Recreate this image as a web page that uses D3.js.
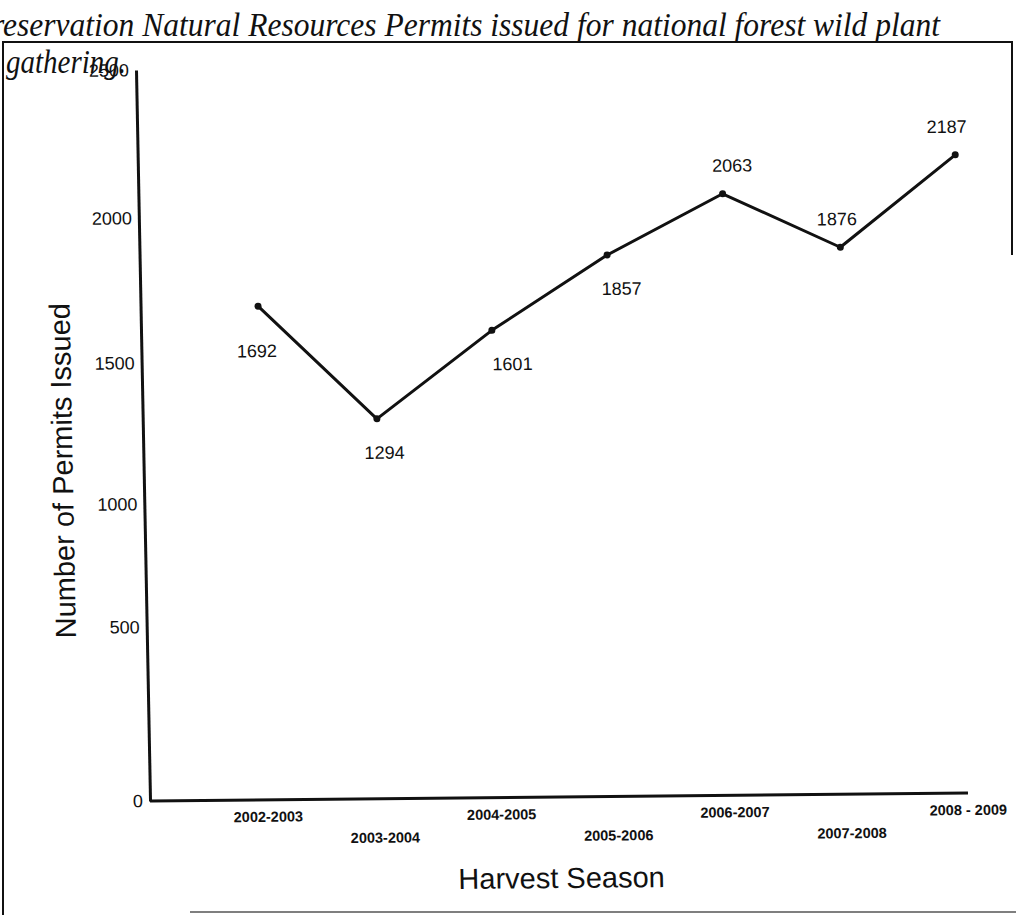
<!DOCTYPE html>
<html>
<head>
<meta charset="utf-8">
<script src="https://cdn.jsdelivr.net/npm/d3@7"></script>
<style>
  html, body { margin: 0; padding: 0; background: #fff; }
  svg { display: block; }
  .title { font-family: 'Liberation Serif', 'DejaVu Serif', serif; font-style: italic; font-size: 34px; fill: #111; }
  .tick-label { font-family: 'Liberation Sans', Arial, sans-serif; font-size: 18px; fill: #111; }
  .season-label { font-family: 'Liberation Sans', Arial, sans-serif; font-size: 14.5px; font-weight: bold; fill: #111; }
  .value-label { font-family: 'Liberation Sans', Arial, sans-serif; font-size: 18px; fill: #111; }
  .axis-title { font-family: 'Liberation Sans', Arial, sans-serif; font-size: 29px; fill: #111; }
</style>
</head>
<body>
<div id="chart"></div>
<script>
const seasons = ['2002-2003', '2003-2004', '2004-2005', '2005-2006', '2006-2007', '2007-2008', '2008 - 2009'];
const permits = [1692, 1294, 1601, 1857, 2063, 1876, 2187];
const labelSide = ['below', 'below', 'below', 'below', 'above', 'above', 'above'];
const yTicks = [0, 500, 1000, 1500, 2000, 2500];
const titleLines = ['reservation Natural Resources Permits issued for national forest wild plant', 'gathering.'];

const width = 1016, height = 915;

const svg = d3.select('#chart')
  .append('svg')
  .attr('width', width)
  .attr('height', height);

// scanned page frame
const frame = svg.append('g').attr('stroke', '#111').attr('fill', 'none');
frame.append('path')
  .attr('d', 'M1012,255V42H3V915')
  .attr('stroke-width', 2);
frame.append('path')
  .attr('d', 'M190,912H1016')
  .attr('stroke-width', 1.5)
  .attr('stroke', '#555');

// title, cut on the left like the scan
svg.append('text')
  .attr('class', 'title')
  .attr('x', -8)
  .attr('y', 36)
  .attr('textLength', 948)
  .attr('lengthAdjust', 'spacingAndGlyphs')
  .text(titleLines[0]);
svg.append('text')
  .attr('class', 'title')
  .attr('x', 6)
  .attr('y', 73)
  .attr('textLength', 120)
  .attr('lengthAdjust', 'spacingAndGlyphs')
  .text(titleLines[1]);

// the scan is tilted and sheared a little
const baseY = 797;
const g = svg.append('g')
  .attr('transform', `rotate(-0.55, 560, ${baseY}) translate(0,${baseY}) skewX(0.55) translate(0,${-baseY})`);

const plotLeft = 150, plotRight = 968;

const x = d3.scalePoint()
  .domain(seasons)
  .range([267.5, 967.5]);

// scan distortion: the scale is stretched a bit near the bottom
const y = d3.scaleLinear()
  .domain(yTicks)
  .range([baseY, 623, 500, 359, 214, 66]);

// y axis
const yAxis = g.append('g')
  .attr('transform', `translate(${plotLeft},0)`)
  .call(d3.axisLeft(y).tickValues(yTicks).tickFormat(d3.format('d')).tickSize(0).tickPadding(7));
yAxis.attr('font-size', null).attr('font-family', null);
yAxis.select('.domain').attr('stroke', '#111').attr('stroke-width', 3);
yAxis.selectAll('.tick text').attr('class', 'tick-label');

// x axis
const xAxis = g.append('g')
  .attr('transform', `translate(0,${y(0)})`)
  .call(d3.axisBottom(x).tickSize(0).tickPadding(0));
xAxis.attr('font-size', null).attr('font-family', null);
xAxis.select('.domain')
  .attr('d', `M${plotLeft},0H${plotRight}`)
  .attr('stroke', '#111').attr('stroke-width', 3);
xAxis.selectAll('.tick text')
  .attr('class', 'season-label')
  .attr('dy', null)
  .attr('y', (d, i) => i % 2 === 0 ? 22 : 44);

// axis titles
g.append('text')
  .attr('class', 'axis-title')
  .attr('x', 560)
  .attr('y', 888)
  .attr('text-anchor', 'middle')
  .text('Harvest Season');

g.append('text')
  .attr('class', 'axis-title')
  .attr('transform', 'translate(79,466) rotate(-90)')
  .attr('text-anchor', 'middle')
  .text('Number of Permits Issued');

// series
const line = d3.line()
  .x((d, i) => x(seasons[i]))
  .y(d => y(d));

g.append('path')
  .datum(permits)
  .attr('d', line)
  .attr('fill', 'none')
  .attr('stroke', '#111')
  .attr('stroke-width', 3)
  .attr('stroke-linejoin', 'round');

g.selectAll('.pt')
  .data(permits)
  .enter()
  .append('circle')
  .attr('class', 'pt')
  .attr('cx', (d, i) => x(seasons[i]))
  .attr('cy', d => y(d))
  .attr('r', 3.5)
  .attr('fill', '#111');

// hand-placed value labels in the original, nudged per point
const nudgeX = [-2, 7, 20, 14, 10, -3, -8];
g.selectAll('.value-label')
  .data(permits)
  .enter()
  .append('text')
  .attr('class', 'value-label')
  .attr('text-anchor', 'middle')
  .attr('x', (d, i) => x(seasons[i]) + nudgeX[i])
  .attr('y', (d, i) => y(d) + (labelSide[i] === 'below' ? (i === 0 ? 51 : 40) : -22))
  .text(d => d);
</script>
</body>
</html>
